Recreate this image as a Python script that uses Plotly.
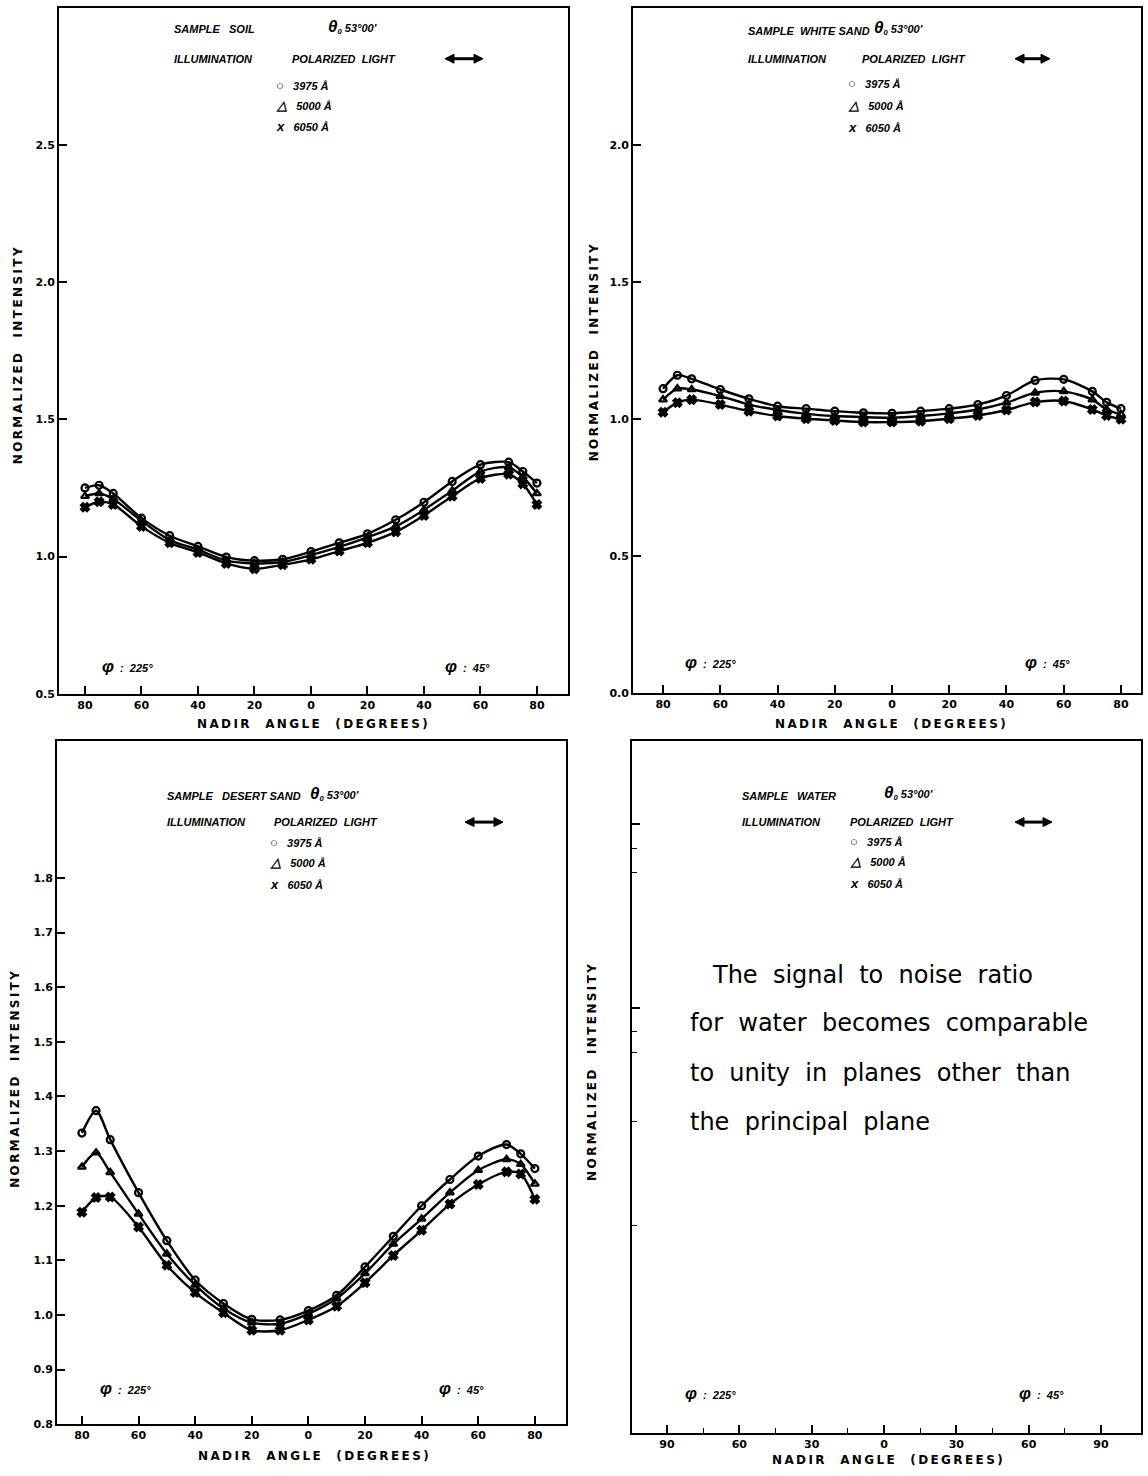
import plotly.graph_objects as go

# ---------------- data ----------------
angles = [-80, -75, -70, -60, -50, -40, -30, -20, -10, 0, 10, 20, 30, 40, 50, 60, 70, 75, 80]

soil_3975 = [1.25, 1.26, 1.23, 1.14, 1.076, 1.037, 0.998, 0.985, 0.99, 1.018, 1.05, 1.083, 1.134, 1.198, 1.274, 1.335, 1.344, 1.31, 1.268]
soil_5000 = [1.22, 1.23, 1.21, 1.13, 1.06, 1.025, 0.985, 0.975, 0.98, 1.005, 1.035, 1.07, 1.11, 1.17, 1.24, 1.31, 1.325, 1.29, 1.23]
soil_6050 = [1.18, 1.20, 1.19, 1.11, 1.05, 1.015, 0.975, 0.955, 0.97, 0.99, 1.02, 1.05, 1.09, 1.15, 1.22, 1.285, 1.30, 1.265, 1.19]

wsand_3975 = [1.11, 1.159, 1.146, 1.107, 1.073, 1.046, 1.037, 1.028, 1.022, 1.02, 1.028, 1.037, 1.052, 1.085, 1.14, 1.144, 1.10, 1.06, 1.037]
wsand_5000 = [1.07, 1.11, 1.107, 1.083, 1.052, 1.032, 1.018, 1.01, 1.006, 1.004, 1.01, 1.02, 1.034, 1.059, 1.095, 1.10, 1.07, 1.034, 1.016]
wsand_6050 = [1.024, 1.059, 1.07, 1.052, 1.028, 1.01, 1.0, 0.994, 0.988, 0.988, 0.991, 1.0, 1.012, 1.032, 1.061, 1.065, 1.034, 1.012, 0.998]

dsand_3975 = [1.333, 1.374, 1.321, 1.224, 1.136, 1.064, 1.021, 0.992, 0.991, 1.008, 1.036, 1.088, 1.144, 1.20, 1.248, 1.291, 1.312, 1.295, 1.268]
dsand_5000 = [1.271, 1.297, 1.261, 1.185, 1.112, 1.055, 1.012, 0.986, 0.984, 1.002, 1.03, 1.076, 1.13, 1.176, 1.224, 1.265, 1.285, 1.276, 1.24]
dsand_6050 = [1.188, 1.215, 1.216, 1.161, 1.091, 1.041, 1.004, 0.972, 0.972, 0.991, 1.016, 1.059, 1.109, 1.155, 1.203, 1.239, 1.262, 1.258, 1.212]

wavelength_labels = ["3975 Å", "5000 Å", "6050 Å"]
marker_symbols = ["circle-open", "triangle-up-open", "x"]
legend_glyphs = ["○", "△", "x"]

samples = ["SOIL", "WHITE SAND", "DESERT SAND", "WATER"]

nadir_ticks = [-80, -60, -40, -20, 0, 20, 40, 60, 80]
nadir_ticktext = ["80", "60", "40", "20", "0", "20", "40", "60", "80"]
water_ticks = [-90, -60, -30, 0, 30, 60, 90]
water_ticktext = ["90", "60", "30", "0", "30", "60", "90"]
water_minor_ticks = [-75, -45, -15, 15, 45, 75]

soil_yticks = [0.5, 1.0, 1.5, 2.0, 2.5]
wsand_yticks = [0.0, 0.5, 1.0, 1.5, 2.0]
dsand_yticks = [0.8, 0.9, 1.0, 1.1, 1.2, 1.3, 1.4, 1.5, 1.6, 1.7, 1.8]
water_yticks = [0.881, 0.614]
water_minor_yticks = [0.845, 0.81, 0.58, 0.55, 0.45, 0.3]

note_lines = ["The  signal  to  noise  ratio",
              "for  water  becomes  comparable",
              "to  unity  in  planes  other  than",
              "the  principal  plane"]

# ---------------- figure ----------------
W, H = 1148, 1476
def px(x):
    return x / W
def py(y):
    return 1 - y / H

fig = go.Figure()

panel_series = [
    [soil_3975, soil_5000, soil_6050],
    [wsand_3975, wsand_5000, wsand_6050],
    [dsand_3975, dsand_5000, dsand_6050],
]

for p, series in enumerate(panel_series):
    suffix = "" if p == 0 else str(p + 1)
    for vals, sym, name in zip(series, marker_symbols, wavelength_labels):
        fig.add_trace(go.Scatter(
            x=angles, y=vals, mode="lines+markers", name=name,
            xaxis="x" + suffix, yaxis="y" + suffix,
            line=dict(color="black", width=2.4, shape="spline", smoothing=0.8),
            marker=dict(symbol=sym, size=7, color="black", line=dict(color="black", width=2.2)),
            showlegend=False,
        ))
# empty trace for water panel so axes render
fig.add_trace(go.Scatter(x=[], y=[], xaxis="x4", yaxis="y4", showlegend=False))

TF = "DejaVu Sans"
tickfont = dict(family=TF, size=11, color="black", weight="bold")

def axis(domain, rng, tv, tt, anchor, minor_vals=None, labels=True):
    d = dict(domain=domain, range=rng, tickmode="array", tickvals=tv,
             ticks="inside", ticklen=8, tickwidth=1.5, tickcolor="black",
             showline=True, linecolor="black", linewidth=1.8, mirror=True,
             showgrid=False, zeroline=False, tickfont=tickfont, anchor=anchor,
             showticklabels=labels)
    if tt is not None:
        d["ticktext"] = tt
    if minor_vals is not None:
        d["minor"] = dict(tickmode="array", tickvals=minor_vals, ticklen=5,
                          tickcolor="black", tickwidth=1.2, ticks="inside", showgrid=False)
    return d

fig.update_layout(
    width=W, height=H, margin=dict(l=0, r=0, t=0, b=0),
    paper_bgcolor="white", plot_bgcolor="white",
    xaxis=axis([px(59), px(568)], [-89.2, 91.0], nadir_ticks, nadir_ticktext, "y"),
    yaxis=axis([py(697), py(8)], [0.5, 3.0], soil_yticks, [f"{v:.1f}" for v in soil_yticks], "x"),
    xaxis2=axis([px(633), px(1141)], [-90.5, 87.0], nadir_ticks, nadir_ticktext, "y2"),
    yaxis2=axis([py(696), py(8)], [0.0, 2.5], wsand_yticks, [f"{v:.1f}" for v in wsand_yticks], "x2"),
    xaxis3=axis([px(57), px(566)], [-88.8, 91.0], nadir_ticks, nadir_ticktext, "y3"),
    yaxis3=axis([py(1431), py(745)], [0.8, 2.05], dsand_yticks, [f"{v:.1f}" for v in dsand_yticks], "x3"),
    xaxis4=axis([px(632), px(1141)], [-104.5, 106.6], water_ticks, water_ticktext, "y4",
                minor_vals=water_minor_ticks),
    yaxis4=axis([py(1440), py(745)], [0, 1], water_yticks, None, "x4",
                minor_vals=water_minor_yticks, labels=False),
)

ann = []
shapes = []
TXT = "Liberation Sans"
small = dict(family=TXT, size=11, color="black", weight="bold", style="italic")

def spaced(s):
    return "\u2009".join(s)

def text(x, y, s, font, xanchor="left", angle=0):
    ann.append(dict(x=px(x), y=py(y), xref="paper", yref="paper", text=s, showarrow=False,
                    xanchor=xanchor, yanchor="middle", font=font, textangle=angle))

def darrow(x0, x1, y):
    # double-headed arrow drawn as shapes (paper coordinates)
    hl, hw = 9, 4.5
    shapes.append(dict(type="line", xref="paper", yref="paper",
                       x0=px(x0 + hl - 1), x1=px(x1 - hl + 1), y0=py(y), y1=py(y),
                       line=dict(color="black", width=3)))
    left = f"M {px(x0)} {py(y)} L {px(x0 + hl)} {py(y - hw)} L {px(x0 + hl)} {py(y + hw)} Z"
    right = f"M {px(x1)} {py(y)} L {px(x1 - hl)} {py(y - hw)} L {px(x1 - hl)} {py(y + hw)} Z"
    for pth in (left, right):
        shapes.append(dict(type="path", xref="paper", yref="paper", path=pth,
                           fillcolor="black", line=dict(color="black", width=1)))

headers = [
    # (sample x, sample y, sample gap, theta x, theta y, illum y, polarized x, arrow x0, arrow x1, legend x, legend ys)
    (172, 29, "   ", 326, 27, 59, 290, 445, 483, 274, [86, 106, 127]),
    (746, 31, "  ", 872, 28, 59, 860, 1015, 1050, 846, [84, 106, 128]),
    (165, 800, "   ", 308, 797, 826, 272, 465, 503, 268, [847, 867, 889]),
    (740, 800, "   ", 882, 796, 826, 848, 1015, 1052, 848, [846, 866, 888]),
]
for s, (sx, sy, gap, tx, ty, iy, plx, a0, a1, lx, lys) in zip(samples, headers):
    text(sx, sy, "SAMPLE" + gap + s, small)
    text(tx, ty, "<span style='font-size:17px'>θ</span><sub>0</sub> 53°00'", small)
    text(sx, iy, "ILLUMINATION", small)
    text(plx, iy, "POLARIZED  LIGHT", small)
    darrow(a0, a1, iy)
    for g, lab, ly in zip(legend_glyphs, wavelength_labels, lys):
        text(lx, ly, "<span style='font-size:13px'>" + g + "</span>   " + lab, small)

phis = [(100, 443, 670), (683, 1023, 666), (98, 437, 1395), (683, 1017, 1400)]
for lx, rx, y in phis:
    text(lx, y, "<span style='font-size:17px'>φ</span>  :  225°", small)
    text(rx, y, "<span style='font-size:17px'>φ</span>  :  45°", small)

titlefont = dict(family=TF, size=12, color="black", weight="bold")
for cx, cy in [(312, 727), (890, 727), (313, 1463), (887, 1467)]:
    text(cx, cy, spaced("NADIR  ANGLE  (DEGREES)"), titlefont, xanchor="center")
for cx, cy in [(18, 358), (594, 355), (15, 1085), (592, 1078)]:
    text(cx, cy, spaced("NORMALIZED  INTENSITY"), titlefont, xanchor="center", angle=-90)

notefont = dict(family="DejaVu Sans", size=24, color="black")
for (lx, ly), line in zip([(710, 980), (688, 1028), (688, 1078), (688, 1127)], note_lines):
    text(lx, ly, line, notefont)

fig.update_layout(annotations=ann, shapes=shapes)
fig.write_html("out.html")
